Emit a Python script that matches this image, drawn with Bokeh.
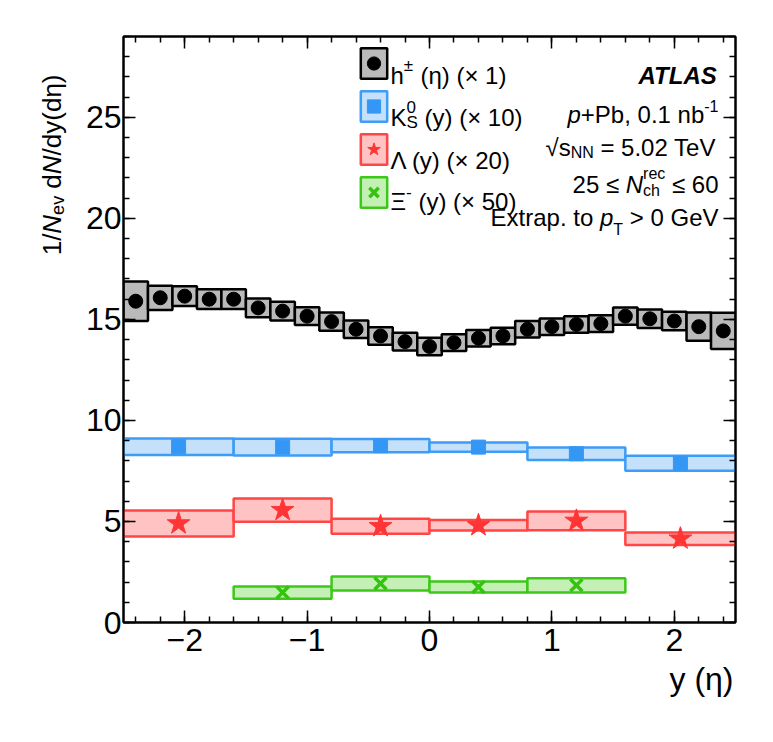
import numpy as np
from bokeh.plotting import figure
from bokeh.layouts import row
from bokeh.models import (Label, LinearAxis, SingleIntervalTicker, Legend, LegendItem,
                          ColumnDataSource, Title)
from bokeh.embed import file_html
from bokeh.resources import INLINE

# ---------------- data ----------------
h_edges = [-2.5, -2.3, -2.1, -1.9, -1.7, -1.5, -1.3, -1.1, -0.9, -0.7, -0.5, -0.3, -0.1,
           0.1, 0.3, 0.5, 0.7, 0.9, 1.1, 1.3, 1.5, 1.7, 1.9, 2.1, 2.3, 2.5]
h_vals = [15.90, 16.07, 16.15, 16.00, 16.00, 15.57, 15.41, 15.16, 14.89, 14.51, 14.18, 13.90,
          13.66, 13.85, 14.07, 14.18, 14.51, 14.64, 14.75, 14.79, 15.16, 15.03, 14.92, 14.64, 14.43]
h_sys = [0.98, 0.60, 0.49, 0.49, 0.49, 0.46, 0.46, 0.44, 0.45, 0.43, 0.43, 0.44, 0.43,
         0.41, 0.41, 0.41, 0.41, 0.41, 0.41, 0.41, 0.43, 0.46, 0.46, 0.70, 0.90]

k_edges = [-2.5, -1.6, -0.8, 0.0, 0.8, 1.6, 2.5]
k_vals = [8.70, 8.68, 8.75, 8.68, 8.35, 7.88]
k_sys = [0.41, 0.41, 0.33, 0.23, 0.31, 0.37]

l_edges = [-2.5, -1.6, -0.8, 0.0, 0.8, 1.6, 2.5]
l_vals = [4.90, 5.56, 4.76, 4.81, 5.03, 4.15]
l_sys = [0.64, 0.58, 0.37, 0.26, 0.46, 0.31]

x_edges = [-1.6, -0.8, 0.0, 0.8, 1.6]
x_vals = [1.48, 1.93, 1.76, 1.84]
x_sys = [0.30, 0.35, 0.27, 0.35]

x_ticklabels = {-2: "\u22122", -1: "\u22121", 0: "0", 1: "1", 2: "2"}

FONT = "Liberation Sans"
TOTAL_H = 722
STRIP_W = 78

# ---------------- main figure ----------------
p = figure(frame_width=612, frame_height=586, x_range=(-2.5, 2.5), y_range=(0, 29),
           output_backend="svg", toolbar_location=None,
           min_border_left=45, min_border_right=30, min_border_top=36, min_border_bottom=100,
           background_fill_color="white", border_fill_color="white")
p.xgrid.visible = False
p.ygrid.visible = False
p.outline_line_color = "black"
p.outline_line_width = 2

p.xaxis.ticker = SingleIntervalTicker(interval=1, num_minor_ticks=5)
p.yaxis.ticker = SingleIntervalTicker(interval=5, num_minor_ticks=5)
p.xaxis.major_label_overrides = x_ticklabels

def style_axis(ax, labels=True):
    ax.axis_line_color = "black"
    ax.axis_line_width = 2
    ax.major_tick_in = 12
    ax.major_tick_out = 0
    ax.minor_tick_in = 6
    ax.minor_tick_out = 0
    ax.major_tick_line_color = "black"
    ax.minor_tick_line_color = "black"
    ax.major_tick_line_width = 1.5
    ax.minor_tick_line_width = 1.5
    ax.axis_label = None
    if labels:
        ax.major_label_text_font = FONT
        ax.major_label_text_font_size = "32px"
        ax.major_label_text_color = "black"
    else:
        ax.major_label_text_font_size = "1px"
        ax.major_label_text_alpha = 0
        ax.major_label_standoff = 0

style_axis(p.xaxis[0])
style_axis(p.yaxis[0])
p.xaxis[0].major_label_standoff = 6
p.yaxis[0].major_label_standoff = 2

top = LinearAxis(ticker=SingleIntervalTicker(interval=1, num_minor_ticks=5))
right = LinearAxis(ticker=SingleIntervalTicker(interval=5, num_minor_ticks=5))
style_axis(top, labels=False)
style_axis(right, labels=False)
p.add_layout(top, "above")
p.add_layout(right, "right")

def series(edges, vals, sys):
    e = np.array(edges)
    v = np.array(vals)
    s = np.array(sys)
    return ColumnDataSource(dict(left=e[:-1], right=e[1:], bottom=v - s, top=v + s,
                                 x=(e[:-1] + e[1:]) / 2, y=v))

hs = series(h_edges, h_vals, h_sys)
ks = series(k_edges, k_vals, k_sys)
ls = series(l_edges, l_vals, l_sys)
xs = series(x_edges, x_vals, x_sys)

hq = p.quad(left="left", right="right", bottom="bottom", top="top", source=hs,
            fill_color="#bababa", line_color="black", line_width=2.5)
hm = p.scatter("x", "y", source=hs, marker="circle", size=14, fill_color="black", line_color="black")

kq = p.quad(left="left", right="right", bottom="bottom", top="top", source=ks,
            fill_color="#c4e0fb", line_color="#3d9cf5", line_width=2.5)
km = p.scatter("x", "y", source=ks, marker="square", size=14, fill_color="#3597f5", line_color="#3597f5")

lq = p.quad(left="left", right="right", bottom="bottom", top="top", source=ls,
            fill_color="#ffc3c3", line_color="#ff4545", line_width=2.5)
lm = p.scatter("x", "y", source=ls, marker="star", size=24, fill_color="#ff3535", line_color="#ff3535")

xq = p.quad(left="left", right="right", bottom="bottom", top="top", source=xs,
            fill_color="#c5f0b5", line_color="#3cc81a", line_width=2.5)
xm = p.scatter("x", "y", source=xs, marker="x", size=17, line_color="#33c40f", line_width=3.5)

legend = Legend(items=[LegendItem(label=" ", renderers=[hq, hm]),
                       LegendItem(label=" ", renderers=[kq, km]),
                       LegendItem(label=" ", renderers=[lq, lm]),
                       LegendItem(label=" ", renderers=[xq, xm])],
                location=(234, 411), glyph_width=33, glyph_height=38, spacing=5,
                padding=0, margin=0, border_line_color=None, background_fill_alpha=0,
                label_text_font_size="1px", label_width=0, label_standoff=0, label_height=0)
p.add_layout(legend)

p.add_layout(Title(text="y (\u03b7)", align="right", text_font=FONT, text_font_size="32px",
                   text_font_style="normal", text_color="black", offset=2, standoff=10), "below")

# ---------------- y-title strip (no axes, no title, frame = whole canvas) ----------------
yf = figure(frame_width=STRIP_W, frame_height=TOTAL_H, x_range=(0, STRIP_W), y_range=(0, TOTAL_H),
            title=None, x_axis_location=None, y_axis_location=None, output_backend="svg",
            toolbar_location=None, min_border=0, min_border_left=0, min_border_right=0,
            min_border_top=0, min_border_bottom=0, outline_line_color=None,
            background_fill_color="white", border_fill_color="white")
yf.grid.visible = False

# ---------------- rich text helper ----------------
EM = {' ': .278, '(': .333, ')': .333, '\u00d7': .584, '0': .556, '1': .556, '2': .556, '5': .556,
      '6': .556, '.': .278, ',': .278, '/': .278, '=': .584, '\u2264': .549, '>': .584, '+': .584,
      '-': .333, '\u00b1': .584, 'h': .556, '\u03b7': .556, 'y': .5, 'K': .667, 'S': .667,
      '\u039b': .667, '\u039e': .648, 'p': .556, 'P': .667, 'b': .556, 'n': .556, 's': .5, 'N': .722,
      'T': .611, 'e': .556, 'V': .667, 'r': .333, 'c': .5, 'E': .667, 'x': .5, 't': .278, 'a': .556,
      'o': .556, 'G': .778, 'd': .556, 'v': .5, '\u221a': .549, 'A': .667, 'L': .556}
EMB = {'A': .722, 'T': .611, 'L': .611, 'S': .667}

def tw(s, size, style):
    tbl = EMB if "bold" in style else EM
    return sum(tbl.get(c, EM.get(c, .556)) for c in s) * size

def place(fig, runs, ax, ay, ox, oy, align="left", angle=0.0, pixel_data=False):
    advs = [max(tw(t, s, st) for t, s, st, d in grp) for grp in runs]
    total = sum(advs)
    pos = 0.0 if align == "left" else -total
    for grp, adv in zip(runs, advs):
        for t, s, st, d in grp:
            lead = len(t) - len(t.lstrip(" "))
            shift = pos + lead * EM[" "] * s
            txt = t.strip(" ")
            if angle == 0:
                xo, yo = ox + shift, oy + d
            else:
                xo, yo = ox - d, oy + shift
            if pixel_data:
                kw = dict(x=ax + xo, y=ay + yo)
            else:
                kw = dict(x=ax, y=ay, x_offset=xo, y_offset=yo)
            fig.add_layout(Label(text=txt, text_font=FONT,
                                 text_font_size=f"{s}px", text_font_style=st, text_color="black",
                                 text_baseline="alphabetic", text_align="left", angle=angle, **kw))
        pos += adv

N = "normal"
I = "italic"
# right-hand block
place(p, [[("ATLAS", 24, "bold italic", 0)]], 2.5, 29, -17, -39, align="right")
place(p, [[("p", 24, I, 0)], [("+Pb, 0.1 nb", 24, N, 0)], [("-1", 16, N, 9)]], 2.5, 29, -17, -78, align="right")
place(p, [[("\u221a", 24, N, 0)], [("s", 24, N, 0)], [("NN", 16, N, -5)], [(" = 5.02 TeV", 24, N, 0)]],
      2.5, 29, -17, -111, align="right")
place(p, [[("25 \u2264 ", 24, N, 0)], [("N", 24, I, 0)], [("rec", 16, N, 11), ("ch", 16, N, -6)],
          [(" \u2264 60", 24, N, 0)]], 2.5, 29, -17, -148, align="right")
place(p, [[("Extrap. to ", 24, N, 0)], [("p", 24, I, 0)], [("T", 16, N, -12)], [(" > 0 GeV", 24, N, 0)]],
      2.5, 29, -17, -181, align="right")

# legend labels
place(p, [[("h", 24, N, 0)], [("\u00b1", 17, N, 10)], [(" (\u03b7) (\u00d7 1)", 24, N, 0)]], -2.5, 29, 267, -39)
place(p, [[("K", 24, N, 0)], [("0", 17, N, 11), ("S", 17, N, -5)], [(" (y) (\u00d7 10)", 24, N, 0)]], -2.5, 29, 267, -81)
place(p, [[("\u039b (y) (\u00d7 20)", 24, N, 0)]], -2.5, 29, 267, -123.5)
place(p, [[("\u039e", 24, N, 0)], [("-", 17, N, 10)], [(" (y) (\u00d7 50)", 24, N, 0)]], -2.5, 29, 267, -165)

# y-axis title (rotated), top end aligned with the frame top
place(yf, [[("1/", 26, N, 0)], [("N", 26, I, 0)], [("ev", 18, N, -6)], [(" d", 26, N, 0)], [("N", 26, I, 0)],
           [("/dy(d\u03b7)", 26, N, 0)]], 51, TOTAL_H - 38, 0, 0, align="right", angle=np.pi / 2,
      pixel_data=True)

layout = row(yf, p)
open("out.html", "w").write(file_html(layout, INLINE))
